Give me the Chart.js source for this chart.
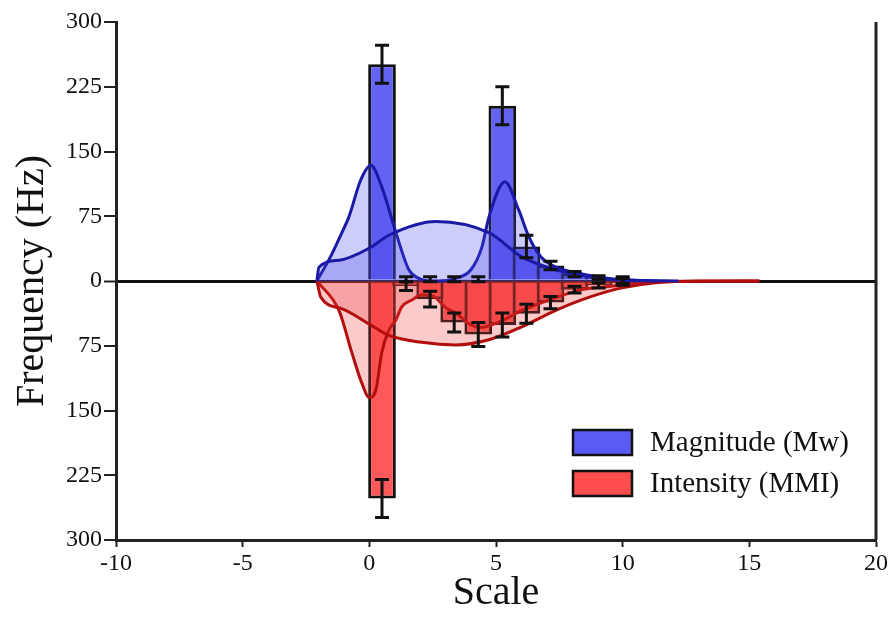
<!DOCTYPE html>
<html lang="en">
<head>
  <meta charset="UTF-8" />
  <title>Magnitude vs Intensity</title>
  <script src="https://cdn.jsdelivr.net/npm/chart.js"></script>
  <style>
    body {
      margin: 0;
      background: #fff;
    }
    .wrap {
      width: 893px;
      height: 617px;
    }
  </style>
</head>
<body>
  <div class="wrap">
    <canvas id="histChart" width="893" height="617"></canvas>
  </div>

  <script>
    // bin centres (Scale) shared by both histograms
    const binCenters = [0.5, 1.45, 2.4, 3.35, 4.3, 5.25, 6.2, 7.15, 8.1, 9.05, 10.0];

    // bar heights and error half-widths
    const magnitudeBars = [251, 2, 2, 2, 2, 203, 40, 18, 8, 4, 1];
    const magnitudeErr  = [22, 3, 3, 3, 3, 22, 13, 5, 3, 2, 4];
    const intensityBars = [-252, -6, -21, -48, -62, -51, -38, -25, -10, -5, -1];
    const intensityErr  = [22, 5, 9, 11, 14, 14, 11, 7, 4, 3, 4];

    // fitted curves
    const magWideX = [-2.07, -1.99, -1.2, 0, 0.77, 2.63, 4.72, 6.02, 7.36, 8.66, 10.05, 11.4];
    const magWideY = [0, 16, 24, 38, 53, 69, 56, 28, 13, 5, 1, 0];
    const magPeakX = [-2.07, -1.5, -1.1, -0.81, -0.34, 0.06, 0.49, 1.05, 1.56, 1.95, 2.35, 2.74, 3.41, 4.01, 4.44, 4.72, 5.35, 5.9, 6.3, 6.77, 7.36, 8.27, 9.45, 10.5, 12.2];
    const magPeakY = [0, 30, 55, 74, 117, 134, 109, 56, 13, 3, 0, 0, 3, 13, 39, 74, 115, 82, 51, 28, 16, 9, 3, 1, 0];
    const intWideX = [-2.07, -1.91, -1.09, 0, 0.77, 2.07, 3.41, 4.72, 6.02, 7.36, 8.66, 9.97, 11.3, 13, 15.4];
    const intWideY = [0, -19, -32, -50, -63, -71, -74, -68, -53, -34, -19, -8, -2, 0, 0];
    const intPeakX = [-2.07, -1.2, -0.69, -0.3, 0, 0.26, 0.49, 0.77, 1.05, 1.28, 1.68, 2.07, 2.55, 3.02, 3.41, 4.01, 4.44, 4.99, 5.31, 6.02, 7.09, 8.4, 9.97, 11.3, 15.4];
    const intPeakY = [0, -34, -83, -118, -135, -126, -83, -57, -45, -30, -22, -16, -18, -31, -37, -51, -54, -49, -45, -34, -22, -10, -5, -1, 0];

    const xTicks = [-10, -5, 0, 5, 10, 15, 20];
    const yTicks = [-300, -225, -150, -75, 0, 75, 150, 225, 300];

    const legendItems = [
      { text: 'Magnitude (Mw)', color: '#5a5af4' },
      { text: 'Intensity (MMI)', color: '#ff4d4d' }
    ];

    const toPoints = (xs, ys) => xs.map((x, i) => ({ x: x, y: ys[i] }));

    const serif = "'Liberation Serif', 'Times New Roman', serif";

    function curve(xs, ys, line, fillCol) {
      return {
        type: 'line',
        data: toPoints(xs, ys),
        borderColor: line,
        borderWidth: 3,
        backgroundColor: fillCol,
        fill: 'origin',
        pointRadius: 0,
        cubicInterpolationMode: 'monotone',
        order: 0
      };
    }

    function bars(vals, col) {
      return {
        type: 'bar',
        data: toPoints(binCenters, vals),
        backgroundColor: col,
        borderColor: '#111',
        borderWidth: 3,
        grouped: false,
        barPercentage: 1.15,
        categoryPercentage: 1,
        order: 1
      };
    }

    // error bars on top of the histogram bars
    const errorBars = {
      id: 'errorBars',
      afterDatasetsDraw(chart) {
        const ctx = chart.ctx;
        const y = chart.scales.y;
        [[0, magnitudeBars, magnitudeErr], [1, intensityBars, intensityErr]].forEach(([idx, vals, errs]) => {
          const meta = chart.getDatasetMeta(idx);
          meta.data.forEach((el, i) => {
            const top = y.getPixelForValue(vals[i] + errs[i]);
            const bot = y.getPixelForValue(vals[i] - errs[i]);
            ctx.save();
            ctx.strokeStyle = '#111';
            ctx.lineWidth = 3;
            ctx.beginPath();
            ctx.moveTo(el.x, top); ctx.lineTo(el.x, bot);
            ctx.moveTo(el.x - 7, top); ctx.lineTo(el.x + 7, top);
            ctx.moveTo(el.x - 7, bot); ctx.lineTo(el.x + 7, bot);
            ctx.stroke();
            ctx.restore();
          });
        });
      }
    };

    // right frame line and legend inside plot
    const frameLegend = {
      id: 'frameLegend',
      afterDraw(chart) {
        const ctx = chart.ctx;
        const a = chart.chartArea;
        ctx.save();
        ctx.strokeStyle = '#222';
        ctx.lineWidth = 3;
        ctx.beginPath();
        ctx.moveTo(a.right, a.top);
        ctx.lineTo(a.right, a.bottom);
        ctx.stroke();

        const bx = a.right - 303;
        legendItems.forEach((it, i) => {
          const by = 430 + i * 41;
          ctx.fillStyle = it.color;
          ctx.fillRect(bx, by, 59, 25);
          ctx.lineWidth = 2.5;
          ctx.strokeStyle = '#111';
          ctx.strokeRect(bx, by, 59, 25);
          ctx.fillStyle = '#111';
          ctx.font = '29px ' + serif;
          ctx.textBaseline = 'middle';
          ctx.fillText(it.text, bx + 77, by + 13);
        });
        ctx.restore();
      }
    };

    const ctx = document.getElementById('histChart').getContext('2d');
    new Chart(ctx, {
      type: 'bar',
      data: {
        datasets: [
          bars(magnitudeBars, '#6464f2'),
          bars(intensityBars, '#ff5858'),
          curve(magWideX, magWideY, '#1a1aa6', 'rgba(70, 70, 235, 0.27)'),
          curve(magPeakX, magPeakY, '#1a1aa6', 'rgba(70, 70, 235, 0.27)'),
          curve(intWideX, intWideY, '#b30d0d', 'rgba(240, 60, 60, 0.27)'),
          curve(intPeakX, intPeakY, '#b30d0d', 'rgba(240, 60, 60, 0.27)')
        ]
      },
      options: {
        responsive: false,
        animation: false,
        layout: { padding: { top: 22, right: 17, left: 0, bottom: 0 } },
        plugins: {
          legend: { display: false },
          tooltip: { enabled: false }
        },
        scales: {
          x: {
            type: 'linear',
            offset: false,
            min: -10,
            max: 20,
            afterBuildTicks: s => { s.ticks = xTicks.map(v => ({ value: v })); },
            afterFit: s => { s.height = 77; },
            ticks: {
              color: '#111',
              font: { family: serif, size: 24 },
              padding: 2
            },
            grid: {
              offset: false,
              drawOnChartArea: false,
              tickLength: 7,
              tickColor: '#222',
              tickWidth: 2
            },
            border: { color: '#222', width: 3 },
            title: {
              display: true,
              text: 'Scale',
              color: '#111',
              font: { family: serif, size: 40 },
              padding: { top: 4, bottom: 0 }
            }
          },
          y: {
            min: -300,
            max: 300,
            afterBuildTicks: s => { s.ticks = yTicks.map(v => ({ value: v })); },
            afterFit: s => { s.width = 116; },
            ticks: {
              color: '#111',
              font: { family: serif, size: 24 },
              padding: 2,
              callback: v => Math.abs(v)
            },
            grid: {
              drawOnChartArea: true,
              color: c => (c.tick && c.tick.value === 0) ? '#111' : 'rgba(0,0,0,0)',
              lineWidth: c => (c.tick && c.tick.value === 0) ? 3 : 0,
              tickLength: 12,
              tickColor: '#222',
              tickWidth: 2
            },
            border: { color: '#222', width: 3 },
            title: {
              display: true,
              text: 'Frequency (Hz)',
              color: '#111',
              font: { family: serif, size: 40 },
              padding: { top: 8, bottom: 4 }
            }
          }
        }
      },
      plugins: [errorBars, frameLegend]
    });
  </script>
</body>
</html>
